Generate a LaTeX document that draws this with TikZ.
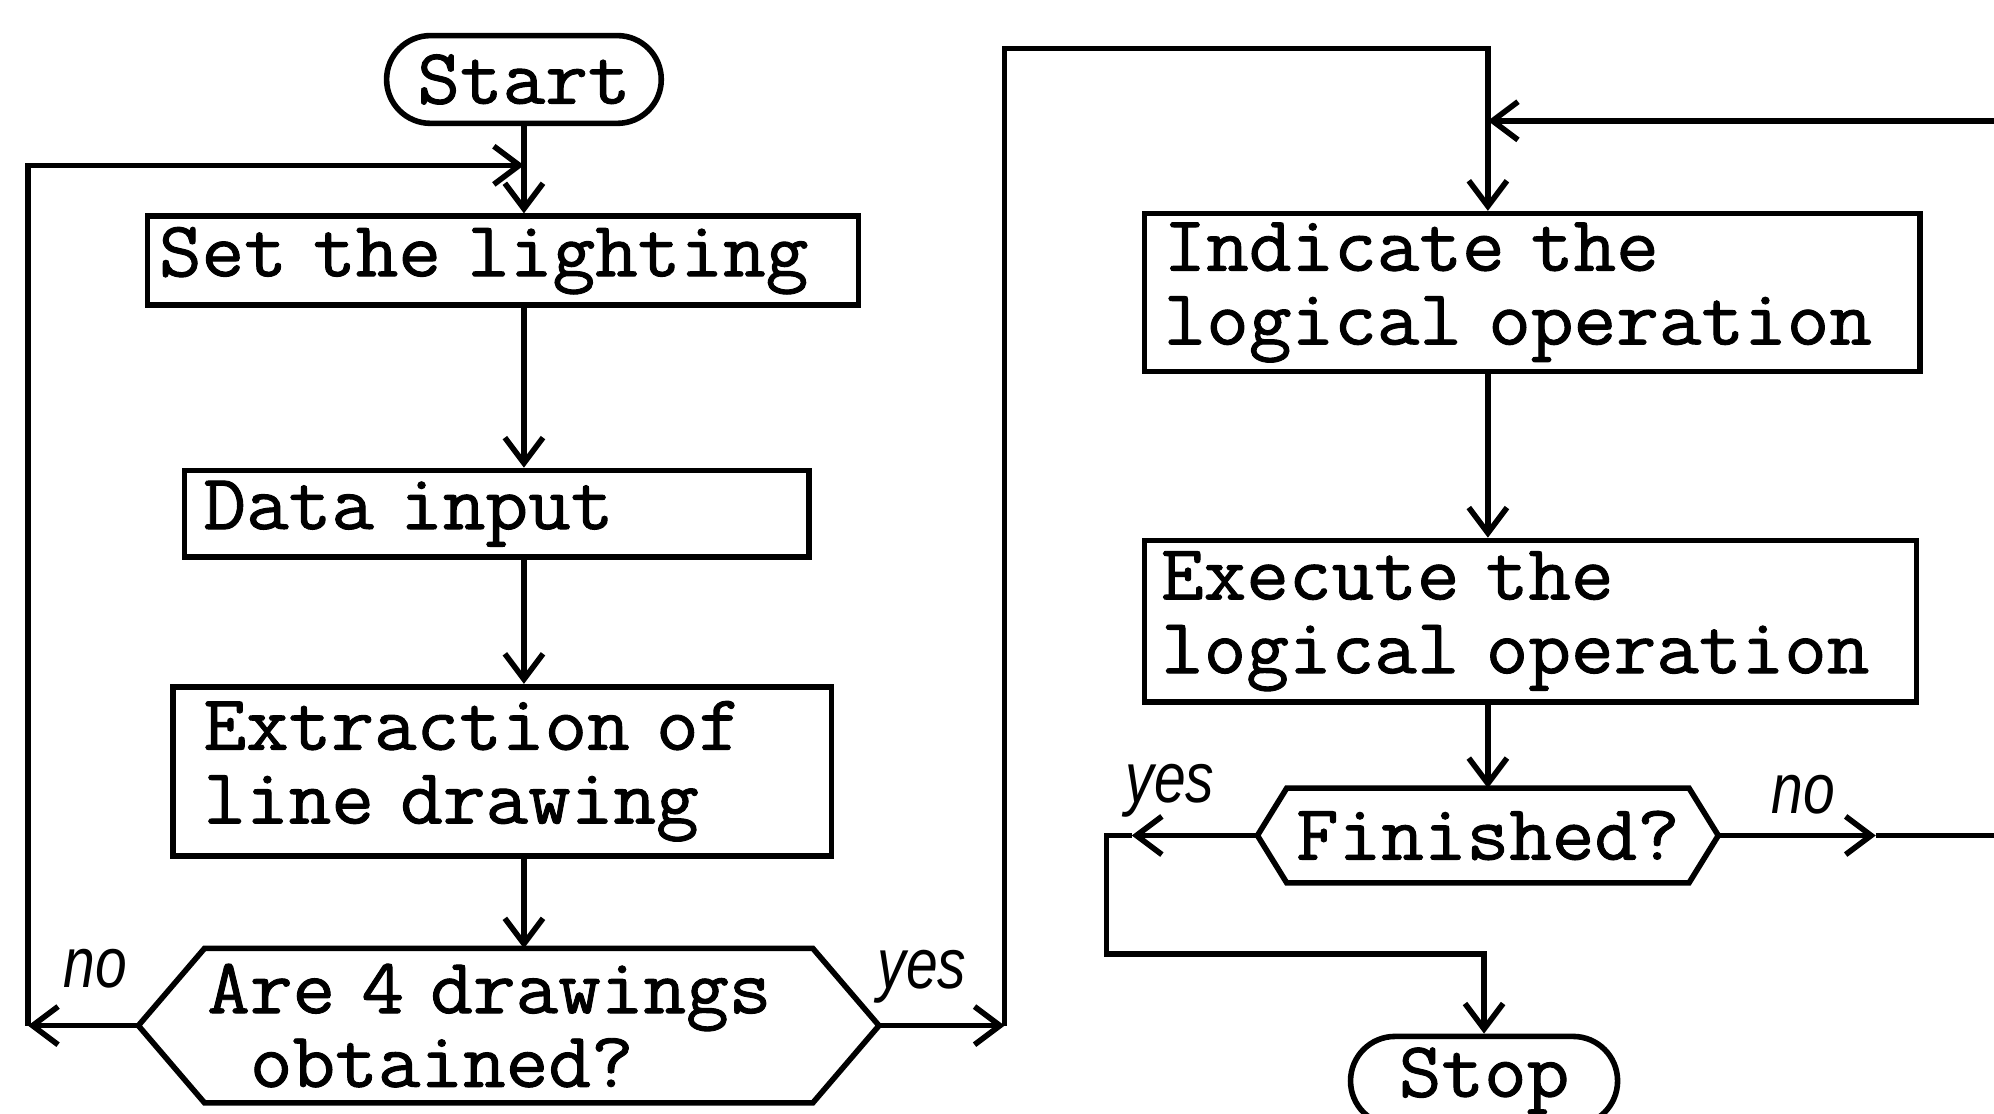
\documentclass[tikz,border=0pt]{standalone}
\usepackage{fontspec}
\usetikzlibrary{arrows.meta,shapes.misc,calc}
\newfontfamily\typewriter[FakeBold=1.2,FakeStretch=1.05]{Latin Modern Mono}
\newfontfamily\handfont[FakeStretch=0.8]{Liberation Sans}

\begin{document}
\lineskiplimit=-50pt
\begin{tikzpicture}[x=0.5pt,y=-0.5pt,
  line width=2.2pt,
  every node/.style={font=\typewriter\fontsize{31}{29}\selectfont},
  procbox/.style={draw, rectangle, align=left, inner ysep=0pt},
  term/.style={draw, rounded rectangle, inner sep=0pt},
  choice/.style={inner sep=0pt, align=left},
  tag/.style={font=\handfont\itshape\fontsize{28}{28}\selectfont, inner sep=0pt},
  arr/.style={-{Straight Barb[length=10pt,width=15pt]}},
]
\fill[white] (0,0) rectangle (1568,876);
\useasboundingbox (0,0) rectangle (1568,876);

% ---- left column: acquisition of the drawings
\node[term, minimum width=108pt, minimum height=34.5pt] (start) at (412,62.5) {Start};
\node[procbox, minimum width=279.5pt, minimum height=35pt, inner xsep=4.5pt, text width=270.5pt]
  (light) at (395.5,205) {Set the lighting};
\node[procbox, minimum width=245.5pt, minimum height=34pt, inner xsep=7.5pt, text width=230.5pt]
  (data) at (390.5,404) {Data input};
\node[procbox, minimum width=259pt, minimum height=66.5pt, inner xsep=12pt, text width=235pt]
  (extr) at (395,606.5) {Extraction of\\line drawing};
\node[choice, minimum width=237pt, minimum height=58.5pt, text width=237pt]
  (ask) at (400,806.5) {Are 4 drawings\\\hphantom{x}obtained?};
\coordinate (askw) at ($(ask.west)+(-52,0)$);
\coordinate (aske) at ($(ask.east)+(52,0)$);
\draw (ask.north west) -- (ask.north east) -- (aske) -- (ask.south east)
  -- (ask.south west) -- (askw) -- cycle;

% ---- right column: logical operations
\node[procbox, minimum width=305pt, minimum height=62pt, inner xsep=7.5pt, text width=290pt]
  (indic) at (1205,230) {Indicate the\\logical operation};
\node[procbox, minimum width=303.5pt, minimum height=63.5pt, inner xsep=6.5pt, text width=290.5pt]
  (exec) at (1203.5,488.5) {Execute the\\logical operation};
\node[choice, minimum width=156pt, minimum height=35pt, align=center]
  (fin) at (1170,657) {Finished?};
\coordinate (finw) at ($(fin.west)+(-23,0)$);
\coordinate (fine) at ($(fin.east)+(23,0)$);
\draw (fin.north west) -- (fin.north east) -- (fine) -- (fin.south east)
  -- (fin.south west) -- (finw) -- cycle;
\node[term, minimum width=105pt, minimum height=35pt] (stop) at (1167,850) {Stop};

% ---- branch labels
\node[tag] (no1) at (75,762) {no};
\node[tag] (yes1) at (725,768) {yes};
\node[tag] (yes2) at (920,622) {yes};
\node[tag] (no2) at (1418,625) {no};

% ---- routing points
\coordinate (j1) at (412,130);
\coordinate (c1) at (22,806.5);
\coordinate (c2) at (790,806.5);
\coordinate (c3) at (790,38);
\coordinate (c4) at (1170,38);
\coordinate (j2) at (1170,95);
\coordinate (c5) at (1475,657);
\coordinate (c6) at (1610,657);
\coordinate (c7) at (1610,95);
\coordinate (c8) at (890,657);
\coordinate (c9) at (870,657);
\coordinate (c10) at (870,750);
\coordinate (c11) at (1167,750);

% ---- connectors, left column
\draw[arr] (start.south) -- (start.south |- light.north);
\draw[arr] (light.south -| start.south) -- (data.north -| start.south);
\draw[arr] (data.south -| start.south) -- (extr.north -| start.south);
\draw[arr] (extr.south -| start.south) -- (ask.north -| start.south);
\draw[arr] (askw) -- (c1);
\draw[arr] (c1) |- (j1);
\draw[arr] (aske) -- (c2);
\draw[arr] (c2) -- (c3) -- (c4) -- (indic.north -| c4);

% ---- connectors, right column
\draw[arr] (indic.south -| c4) -- (exec.north -| c4);
\draw[arr] (exec.south -| c4) -- (fin.north);
\draw[arr] (fine) -- (c5);
\draw[arr] (c5) -- (c6) -- (c7) -- (j2);
\draw[arr] (finw) -- (c8);
\draw[arr] (c8) -- (c9) -- (c10) -- (c11) -- (stop.north);
\end{tikzpicture}
\end{document}
